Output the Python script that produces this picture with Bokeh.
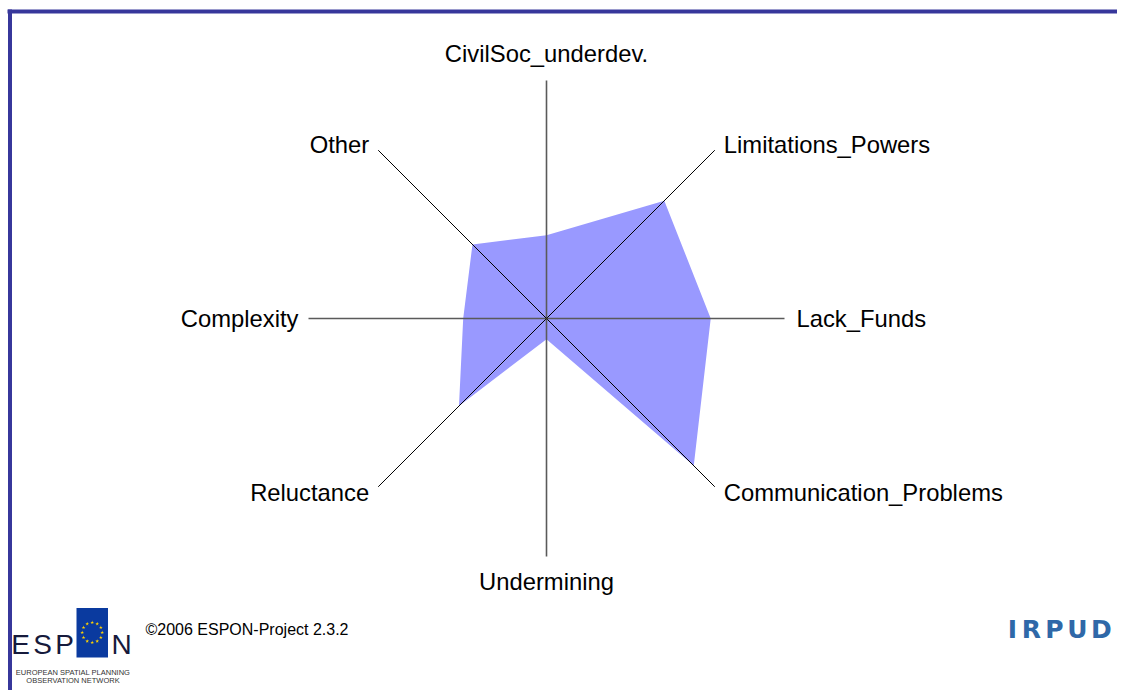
import numpy as np
from bokeh.plotting import figure
from bokeh.models import Range1d
from bokeh.core.properties import value
from bokeh.embed import file_html
from bokeh.resources import INLINE

# ---- data ----
categories = ["CivilSoc_underdev.", "Limitations_Powers", "Lack_Funds",
              "Communication_Problems", "Undermining", "Reluctance",
              "Complexity", "Other"]
values = [0.35, 0.70, 0.69, 0.875, 0.087, 0.52, 0.35, 0.44]
copyright_text = "©2006 ESPON-Project 2.3.2"

# ---- layout (picture pixels -> data units) ----
CX, CY, R = 546.0, 318.0, 238.0
def px(x):
    return (x - CX) / R
def py(y):
    return (CY - y) / R

W, H = 1117, 690
p = figure(width=W, height=H, output_backend="svg", toolbar_location=None,
           x_range=Range1d(px(0), px(W)), y_range=Range1d(py(H), py(0)),
           x_axis_type=None, y_axis_type=None, min_border=0,
           outline_line_color=None)
p.grid.visible = False
p.background_fill_color = "white"
p.border_fill_color = "white"

n = len(categories)
angles = np.deg2rad(90 - 45 * np.arange(n))
vals = np.array(values)
xs = vals * np.cos(angles)
ys = vals * np.sin(angles)

# filled radar polygon
p.patch(list(xs), list(ys), fill_color="#9999ff", line_color=None)

# axes
for i, a in enumerate(angles):
    ex, ey = np.cos(a), np.sin(a)
    if i % 2 == 0:
        p.line([0, ex], [0, ey], line_color="#5a5a5a", line_width=1.6)
    else:
        p.line([0, ex], [0, ey], line_color="black", line_width=1)

# labels
FONT = value("Liberation Sans")
offsets = {  # (x_off px, y_off px, align)
    0: (0, -27, "center"),
    1: (9, -6, "left"),
    2: (12, 0, "left"),
    3: (9, 6, "left"),
    4: (0, 25, "center"),
    5: (-9, 6, "right"),
    6: (-10, 0, "right"),
    7: (-9, -6, "right"),
}
for i, (c, a) in enumerate(zip(categories, angles)):
    xo, yo, al = offsets[i]
    p.text(x=[np.cos(a) + xo / R], y=[np.sin(a) - yo / R], text=[c],
           text_font=FONT, text_font_size="23.8px", text_color="black",
           text_align=al, text_baseline="middle")

# frame lines (top and left)
FR = "#37379b"
p.line([px(7), px(W)], [py(11), py(11)], line_color=FR, line_width=4)
p.line([px(9.5), px(9.5)], [py(9), py(H)], line_color=FR, line_width=4)

# copyright
p.text(x=[px(145)], y=[py(628.5)], text=[copyright_text], text_font=FONT,
       text_font_size="16px", text_color="black", text_align="left",
       text_baseline="alphabetic")

# ESPON logo
p.quad(left=[px(76)], right=[px(107.5)], top=[py(607.5)], bottom=[py(657)],
       fill_color="#0a3a9f", line_color=None)
st = np.deg2rad(np.arange(12) * 30)
p.scatter(x=list(px(91.7) + (10 / R) * np.cos(st)),
          y=list(py(632) + (10 / R) * np.sin(st)),
          marker="star", size=4, fill_color="#ffd200", line_color=None)
for letter, cx in zip(["E", "S", "P", "N"], [20, 42, 64, 121]):
    p.text(x=[px(cx)], y=[py(643.5)], text=[letter],
           text_font=FONT, text_font_size="28px",
           text_color="#161a3c", text_align="center", text_baseline="alphabetic")
p.text(x=[px(72.5)], y=[py(671.5)], text=["EUROPEAN SPATIAL PLANNING"],
       text_font=FONT, text_font_size="7.5px",
       text_color="#333333", text_align="center", text_baseline="alphabetic")
p.text(x=[px(72.5)], y=[py(680)], text=["OBSERVATION NETWORK"],
       text_font=FONT, text_font_size="7.5px",
       text_color="#333333", text_align="center", text_baseline="alphabetic")

# IRPUD logo
for letter, cx in zip(["I", "R", "P", "U", "D"], [1012, 1031, 1054, 1077, 1101]):
    p.text(x=[px(cx)], y=[py(629)], text=[letter],
           text_font=value("DejaVu Sans"), text_font_style="bold",
           text_font_size="25px", text_color="#2f68a8",
           text_align="center", text_baseline="alphabetic")

open("out.html", "w").write(file_html(p, INLINE))
